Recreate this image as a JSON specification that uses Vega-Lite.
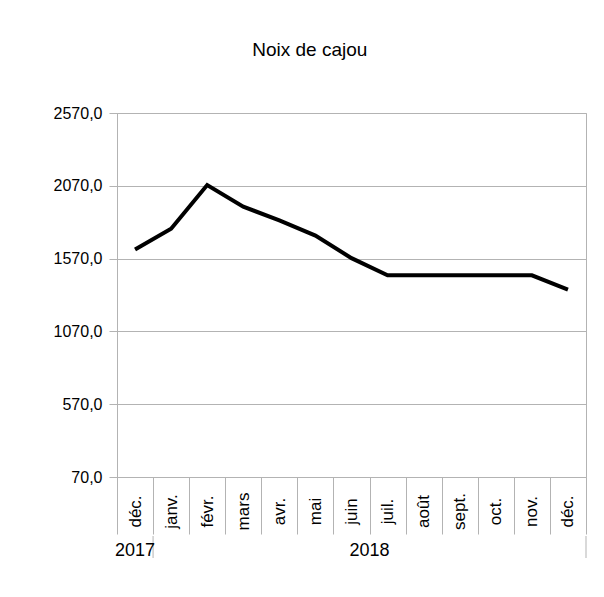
{
  "$schema": "https://vega.github.io/schema/vega-lite/v6.json",
  "padding": {"left": 52, "top": 40, "right": 5, "bottom": 5},
  "background": "white",
  "title": {"text": "Noix de cajou", "font": "Liberation Sans", "fontSize": 19, "fontWeight": "normal", "color": "black", "anchor": "middle", "frame": "bounds", "offset": 45, "dx": -10},
  "config": {"font": "Liberation Sans", "concat": {"spacing": 0}},
  "vconcat": [
    {
      "width": 469,
      "height": 364,
      "view": {"stroke": "#b3b3b3"},
      "data": {"values": [
        {"mois": "déc. 2017", "prix": 1632},
        {"mois": "janv. 2018", "prix": 1775},
        {"mois": "févr. 2018", "prix": 2075},
        {"mois": "mars 2018", "prix": 1927},
        {"mois": "avr. 2018", "prix": 1832},
        {"mois": "mai 2018", "prix": 1728},
        {"mois": "juin 2018", "prix": 1573},
        {"mois": "juil. 2018", "prix": 1455},
        {"mois": "août 2018", "prix": 1455},
        {"mois": "sept. 2018", "prix": 1455},
        {"mois": "oct. 2018", "prix": 1455},
        {"mois": "nov. 2018", "prix": 1455},
        {"mois": "déc. 2018", "prix": 1357}
      ]},
      "mark": {"type": "line", "color": "black", "strokeWidth": 4},
      "encoding": {
        "x": {
          "field": "mois", "type": "ordinal", "sort": null,
          "scale": {"type": "band", "paddingInner": 0, "paddingOuter": 0},
          "bandPosition": 0.5,
          "axis": {
            "title": null,
            "labelExpr": "split(datum.label, ' ')[0]",
            "labelAngle": 270, "labelAlign": "center", "labelBaseline": "middle",
            "labelPadding": -23, "labelFontSize": 17, "labelColor": "black",
            "labelFont": "Liberation Sans", "labelOverlap": false,
            "tickBand": "extent", "tickSize": 57, "tickColor": "#b3b3b3",
            "domainColor": "#b3b3b3", "grid": false
          }
        },
        "y": {
          "field": "prix", "type": "quantitative",
          "scale": {"domain": [70, 2570], "nice": false, "zero": false},
          "axis": {
            "title": null,
            "values": [70, 570, 1070, 1570, 2070, 2570],
            "labelExpr": "replace(format(datum.value, '.1f'), '.', ',')",
            "tickSize": 8, "labelPadding": 7, "labelFontSize": 16, "labelColor": "black",
            "labelFont": "Liberation Sans",
            "gridColor": "#b3b3b3", "tickColor": "#b3b3b3", "domainColor": "#b3b3b3"
          }
        }
      }
    },
    {
      "width": 469,
      "height": 22,
      "view": {"stroke": null},
      "data": {"values": [
        {"annee": "2017", "debut": 0, "fin": 1},
        {"annee": "2018", "debut": 1, "fin": 13}
      ]},
      "layer": [
        {
          "mark": {"type": "rule", "color": "#b3b3b3"},
          "encoding": {
            "x": {"field": "fin", "type": "quantitative", "scale": {"domain": [0, 13], "nice": false, "zero": false}, "axis": null}
          }
        },
        {
          "transform": [{"fold": ["debut", "fin"], "as": ["borne", "position"]}],
          "mark": {"type": "text", "fontSize": 18, "color": "black", "font": "Liberation Sans", "dy": 4},
          "encoding": {
            "x": {"aggregate": "mean", "field": "position", "type": "quantitative"},
            "text": {"field": "annee"}
          }
        }
      ]
    }
  ]
}
